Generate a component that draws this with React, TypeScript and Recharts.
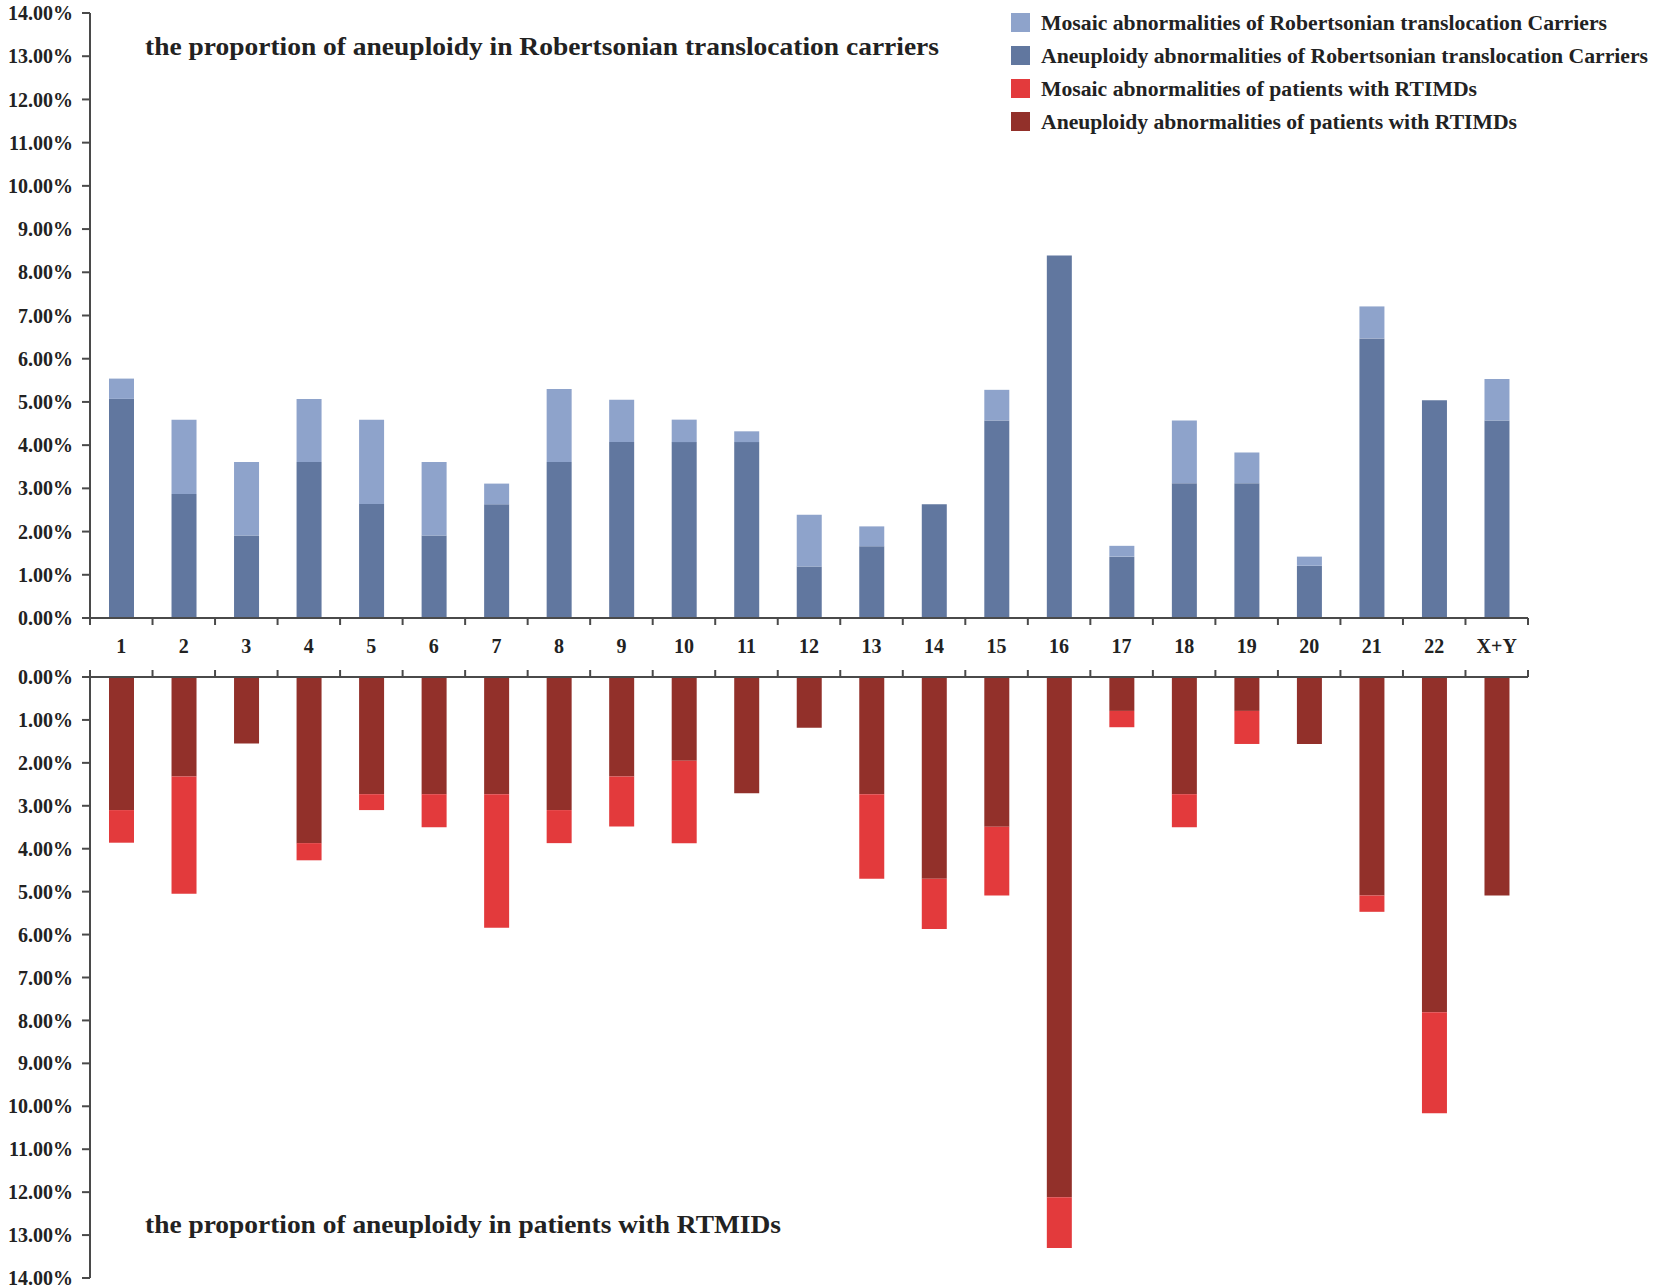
import { BarChart, Bar, XAxis, YAxis } from 'recharts';

const categories = ['1', '2', '3', '4', '5', '6', '7', '8', '9', '10', '11', '12', '13', '14', '15', '16', '17', '18', '19', '20', '21', '22', 'X+Y'];

// Robertsonian translocation carriers (%)
const carrierAneuploidy = [5.07, 2.87, 1.91, 3.61, 2.64, 1.91, 2.63, 3.61, 4.07, 4.07, 4.07, 1.19, 1.66, 2.63, 4.57, 8.39, 1.42, 3.12, 3.12, 1.21, 6.47, 5.04, 4.57];
const carrierMosaic = [0.47, 1.72, 1.70, 1.46, 1.95, 1.70, 0.48, 1.69, 0.98, 0.52, 0.25, 1.20, 0.46, 0, 0.71, 0, 0.25, 1.45, 0.71, 0.21, 0.74, 0, 0.96];

// patients with RTIMDs (%)
const patientAneuploidy = [3.10, 2.32, 1.55, 3.87, 2.73, 2.73, 2.73, 3.10, 2.32, 1.95, 2.71, 1.18, 2.73, 4.70, 3.49, 12.12, 0.79, 2.73, 0.79, 1.56, 5.09, 7.81, 5.09];
const patientMosaic = [0.76, 2.73, 0, 0.40, 0.37, 0.77, 3.11, 0.77, 1.16, 1.92, 0, 0, 1.97, 1.17, 1.60, 1.18, 0.38, 0.77, 0.77, 0, 0.38, 2.35, 0];

const yTicks = [0, 1, 2, 3, 4, 5, 6, 7, 8, 9, 10, 11, 12, 13, 14];

const legendItems = [
  { name: 'Mosaic abnormalities of Robertsonian translocation Carriers', color: '#8ea3cb', len: 566 },
  { name: 'Aneuploidy abnormalities of Robertsonian translocation Carriers', color: '#61779f', len: 607 },
  { name: 'Mosaic abnormalities of patients with RTIMDs', color: '#e33a3c', len: 436 },
  { name: 'Aneuploidy abnormalities of patients with RTIMDs', color: '#92302a', len: 476 },
];

const topData = categories.map((c, i) => ({ name: c, aneu: carrierAneuploidy[i], mosaic: carrierMosaic[i] }));
const bottomData = categories.map((c, i) => ({ name: c, aneu: patientAneuploidy[i], mosaic: patientMosaic[i] }));

const FONT = '"Liberation Serif", "Times New Roman", serif';
const AXIS = '#4a4a4a';

const fmt = (v: number) => `${v.toFixed(2)}%`;

const halfBand = (props: any) =>
  props.payload?.offset ?? props.width / props.visibleTicksCount / 2;

// category tick with boundary tick marks pointing down
const TopXTick = (props: any) => {
  const { x, y, payload, index } = props;
  const h = halfBand(props);
  return (
    <g>
      {index === 0 && <line x1={x - h} x2={x - h} y1={y} y2={y + 7} stroke={AXIS} strokeWidth={2} />}
      <line x1={x + h} x2={x + h} y1={y} y2={y + 7} stroke={AXIS} strokeWidth={2} />
      <text x={x} y={y + 35} textAnchor="middle" fontFamily={FONT} fontWeight="bold" fontSize={20} fill="#222">
        {payload.value}
      </text>
    </g>
  );
};

// bottom chart: only boundary tick marks pointing up
const BottomXTick = (props: any) => {
  const { x, y, index } = props;
  const h = halfBand(props);
  return (
    <g>
      {index === 0 && <line x1={x - h} x2={x - h} y1={y} y2={y - 7} stroke={AXIS} strokeWidth={2} />}
      <line x1={x + h} x2={x + h} y1={y} y2={y - 7} stroke={AXIS} strokeWidth={2} />
    </g>
  );
};

const yTickStyle = { fontFamily: FONT, fontWeight: 'bold', fontSize: 20, fill: '#222' };

export default function App() {
  return (
    <div style={{ position: 'absolute', left: 0, top: 0, width: 1655, height: 1288, background: '#fff' }}>
      <div style={{ position: 'absolute', left: 0, top: 0 }}>
        <BarChart width={1655} height={660} data={topData} margin={{ top: 13, right: 127, left: 0, bottom: 0 }} barSize={25}>
          <XAxis
            dataKey="name"
            height={42}
            tickSize={0}
            tickMargin={0}
            tickLine={false}
            interval={0}
            tick={<TopXTick />}
            axisLine={{ stroke: AXIS, strokeWidth: 2 }}
          />
          <YAxis
            width={90}
            domain={[0, 14]}
            ticks={yTicks}
            interval={0}
            tickFormatter={fmt}
            tickSize={8}
            tickMargin={9}
            tick={yTickStyle}
            tickLine={{ stroke: AXIS, strokeWidth: 2 }}
            axisLine={{ stroke: AXIS, strokeWidth: 2 }}
            allowDataOverflow
          />
          <Bar dataKey="aneu" stackId="a" fill="#61779f" isAnimationActive={false} />
          <Bar dataKey="mosaic" stackId="a" fill="#8ea3cb" isAnimationActive={false} />
        </BarChart>
      </div>
      <div style={{ position: 'absolute', left: 0, top: 660 }}>
        <BarChart width={1655} height={628} data={bottomData} margin={{ top: 0, right: 127, left: 0, bottom: 10 }} barSize={25}>
          <XAxis
            dataKey="name"
            orientation="top"
            height={17}
            tickSize={0}
            tickMargin={0}
            tickLine={false}
            interval={0}
            tick={<BottomXTick />}
            axisLine={{ stroke: AXIS, strokeWidth: 2 }}
          />
          <YAxis
            width={90}
            domain={[0, 14]}
            ticks={yTicks}
            interval={0}
            reversed
            tickFormatter={fmt}
            tickSize={8}
            tickMargin={9}
            tick={yTickStyle}
            tickLine={{ stroke: AXIS, strokeWidth: 2 }}
            axisLine={{ stroke: AXIS, strokeWidth: 2 }}
            allowDataOverflow
          />
          <Bar dataKey="aneu" stackId="b" fill="#92302a" isAnimationActive={false} />
          <Bar dataKey="mosaic" stackId="b" fill="#e33a3c" isAnimationActive={false} />
        </BarChart>
      </div>
      <svg width={1655} height={1288} style={{ position: 'absolute', left: 0, top: 0, pointerEvents: 'none' }}>
        <text x={145} y={55} fontFamily={FONT} fontWeight="bold" fontSize={26} fill="#222" textLength={794} lengthAdjust="spacingAndGlyphs">
          the proportion of aneuploidy in Robertsonian translocation carriers
        </text>
        <text x={145} y={1233} fontFamily={FONT} fontWeight="bold" fontSize={26} fill="#222" textLength={636} lengthAdjust="spacingAndGlyphs">
          the proportion of aneuploidy in patients with RTMIDs
        </text>
        {legendItems.map((item, i) => (
          <g key={item.name}>
            <rect x={1011} y={13 + i * 33} width={19} height={19} fill={item.color} />
            <text
              x={1041}
              y={30 + i * 33}
              fontFamily={FONT}
              fontWeight="bold"
              fontSize={20}
              fill="#222"
              textLength={item.len}
              lengthAdjust="spacingAndGlyphs"
            >
              {item.name}
            </text>
          </g>
        ))}
      </svg>
    </div>
  );
}
